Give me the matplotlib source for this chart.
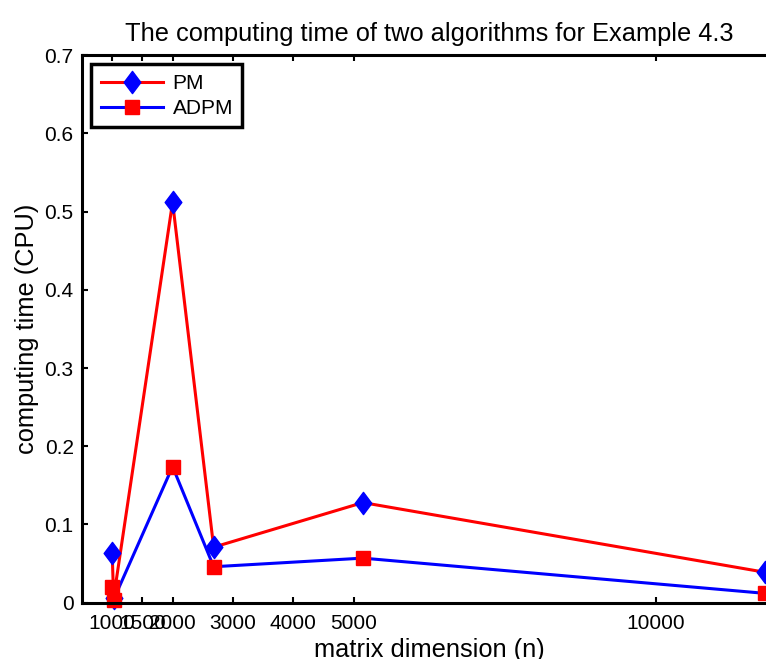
import matplotlib.pyplot as plt
from matplotlib.path import Path

# matrix sizes and CPU times
sizes = [1000, 1024, 2000, 2680, 5150, 11800]
pm_time = [0.064, 0.006, 0.512, 0.071, 0.128, 0.039]
adpm_time = [0.020, 0.004, 0.174, 0.046, 0.057, 0.012]

xticks = [1000, 1500, 2000, 3000, 4000, 5000, 10000]
yticks = [0, 0.1, 0.2, 0.3, 0.4, 0.5, 0.6, 0.7]

plt.rcParams['font.family'] = ['Liberation Sans', 'DejaVu Sans']

# matlab style diamond (taller than wide)
diamond = Path([(0, 1), (0.75, 0), (0, -1), (-0.75, 0), (0, 1)],
               [Path.MOVETO, Path.LINETO, Path.LINETO, Path.LINETO, Path.CLOSEPOLY])

fig = plt.figure(figsize=(7.66, 6.59), dpi=100)
ax = fig.add_axes([0.107, 0.0854, 0.907, 0.831])

ax.plot(sizes, pm_time, '-', color='red', lw=2.2, marker=diamond,
        ms=16, mfc='blue', mec='blue', label='PM', clip_on=False)
ax.plot(sizes, adpm_time, '-', color='blue', lw=2.2, marker='s',
        ms=10, mfc='red', mec='red', label='ADPM', clip_on=False)

ax.set_xlim(500, 12000)
ax.set_ylim(0, 0.7)
ax.set_xticks(xticks)
ax.set_xticklabels([str(t) for t in xticks])
ax.set_yticks(yticks)
ax.set_yticklabels(['0', '0.1', '0.2', '0.3', '0.4', '0.5', '0.6', '0.7'])

ax.tick_params(direction='in', length=4, width=1.5, labelsize=15,
               top=True, right=True)
ax.tick_params(axis='x', pad=8)
ax.tick_params(axis='y', pad=6)
for sp in ax.spines.values():
    sp.set_linewidth(2.2)

ax.set_title('The computing time of two algorithms for Example 4.3',
             fontsize=18.3, pad=10)
ax.set_xlabel('matrix dimension (n)', fontsize=18.3, labelpad=4)
ax.set_ylabel('computing time (CPU)', fontsize=18.3, labelpad=4)

leg = ax.legend(loc='upper left', fontsize=15, fancybox=False,
                handlelength=3, borderaxespad=0.45, framealpha=1,
                borderpad=0.45, labelspacing=0.3, handletextpad=0.45)
leg.get_frame().set_edgecolor('black')
leg.get_frame().set_linewidth(2.5)

fig.savefig('out.png', dpi=100)
